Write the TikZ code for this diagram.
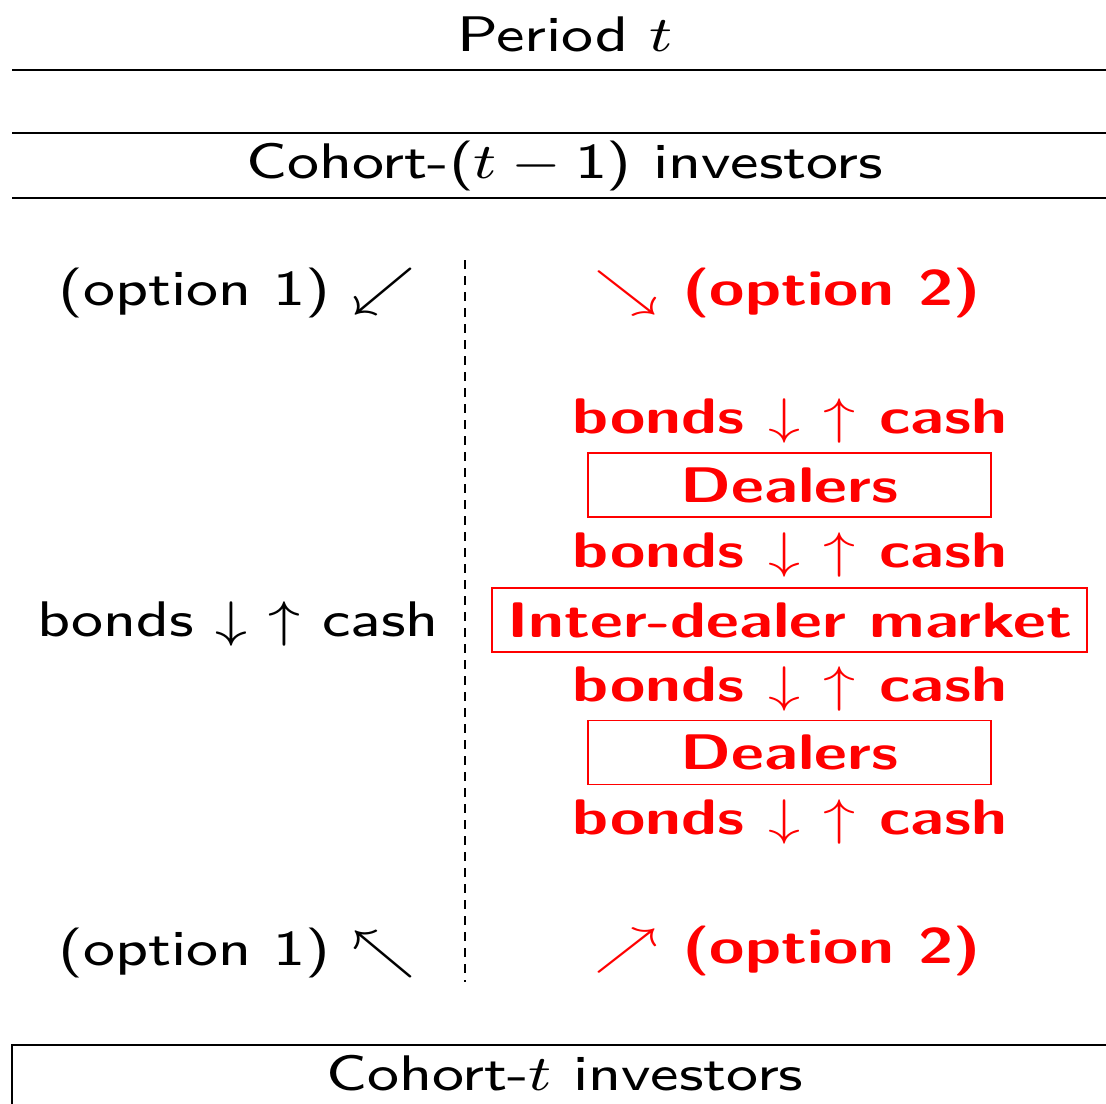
\RequirePackage{fix-cm}
\documentclass[tikz,border=0pt]{standalone}
\usepackage{graphicx}
\usepackage{tikz}
\usetikzlibrary{positioning}
\renewcommand{\familydefault}{\sfdefault}
\definecolor{optred}{HTML}{FF0000}
\newcommand{\tabcell}[1]{\scalebox{3.76}[3.125]{#1}}
\newcommand{\tabcellbf}[1]{\scalebox{3.21}[2.5]{#1}}
\tikzset{
  ctext/.style={anchor=base, inner sep=0pt, font=\fontsize{8}{10}\selectfont},
  ctextaccent/.style={ctext, text=optred, font=\fontsize{10}{12}\selectfont\bfseries},
  cbox/.style={draw=optred, line width=0.6pt, text=optred, font=\fontsize{10}{12}\selectfont\bfseries, inner sep=0pt, minimum height=32pt},
  crule/.style={line width=0.6pt, black},
}
\begin{document}
\begin{tikzpicture}[x=0.5pt, y=-0.5pt]
  \useasboundingbox (0,0) rectangle (1106,1103);
  % header rows
  \node[ctext] (period) at (565,51) {\tabcell{Period $t$}};
  \draw[crule] (12,70) -- (1118,70);
  \draw[crule] (12,133) -- (1118,133);
  \node[ctext] (cohortprev) at (565,178) {\tabcell{Cohort-($t-\mbox{1}$) investors}};
  \draw[crule] (12,198) -- (1118,198);
  % option 1 (left)
  \node[ctext] (optAl) at (237,305) {\tabcell{(option 1) $\swarrow$}};
  \node[ctext] (bondsl) at (238,636) {\tabcell{bonds $\downarrow$ $\uparrow$ cash}};
  \node[ctext] (optBl) at (237,965) {\tabcell{(option 1) $\nwarrow$}};
  % divider
  \coordinate (divtop) at (465,260);
  \coordinate (divbot) at (465,982);
  \draw[crule, dash pattern=on 4.5pt off 3.5pt] (divtop) -- (divbot);
  % option 2 (right)
  \node[ctextaccent] (optAr) at (788,305) {\tabcellbf{$\searrow$ (option 2)}};
  \node[ctextaccent] (bondsa) at (790,433) {\tabcellbf{bonds $\downarrow$ $\uparrow$ cash}};
  \node[cbox, minimum width=201.5pt] (dealersa) at (789.5,485) {\tabcellbf{Dealers}};
  \node[ctextaccent] (bondsb) at (790,567) {\tabcellbf{bonds $\downarrow$ $\uparrow$ cash}};
  \node[cbox, minimum width=297.5pt] (idm) at (789.5,620) {\tabcellbf{Inter-dealer market}};
  \node[ctextaccent] (bondsc) at (790,701) {\tabcellbf{bonds $\downarrow$ $\uparrow$ cash}};
  \node[cbox, minimum width=201.5pt] (dealersb) at (789.5,752.5) {\tabcellbf{Dealers}};
  \node[ctextaccent] (bondsd) at (790,834) {\tabcellbf{bonds $\downarrow$ $\uparrow$ cash}};
  \node[ctextaccent] (optBr) at (788,963) {\tabcellbf{$\nearrow$ (option 2)}};
  % cohort t
  \draw[crule] (12,1140) |- (1118,1045) -- (1118,1140);
  \node[ctext] (cohortnow) at (565,1090) {\tabcell{Cohort-$t$ investors}};
\end{tikzpicture}
\end{document}
